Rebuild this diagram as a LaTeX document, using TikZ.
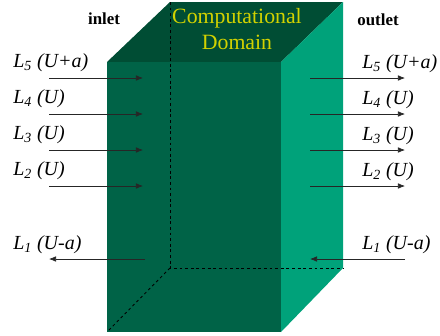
\documentclass[tikz,border=0pt]{standalone}
\usepackage{fontspec}
\setmainfont{Liberation Serif}
\usetikzlibrary{arrows.meta, positioning}
\definecolor{topgreen}{RGB}{0,77,52}
\definecolor{frontgreen}{RGB}{0,99,71}
\definecolor{sidegreen}{RGB}{0,162,122}
\definecolor{domainyellow}{RGB}{210,210,0}

\tikzset{
  wave/.style={draw=black!85, line width=0.5pt, -{Latex[length=5pt, width=4pt]}},
  wavelabel/.style={anchor=west, inner sep=0pt, font=\fontsize{14.2}{17}\selectfont\itshape},
  sidelabel/.style={inner sep=0pt, font=\fontsize{12}{14}\selectfont\bfseries},
  hidden/.style={line width=0.6pt, dash pattern=on 2pt off 2pt},
}

\begin{document}
\begin{tikzpicture}[x=0.025cm, y=-0.025cm]
        \useasboundingbox (0,0) rectangle (440,335);

        % Box corners
        \coordinate (ftl) at (107,62);
        \coordinate (ftr) at (281,62);
        \coordinate (fbl) at (107,332);
        \coordinate (fbr) at (281,332);
        \coordinate (btl) at (170,2);
        \coordinate (btr) at (343,2);
        \coordinate (bbl) at (170,268);
        \coordinate (bbr) at (343,268);

        % Faces
        \fill[topgreen] (ftl) -- (btl) -- (btr) -- (ftr) -- cycle;
        \fill[frontgreen] (ftl) -- (ftr) -- (fbr) -- (fbl) -- cycle;
        \fill[sidegreen] (ftr) -- (btr) -- (bbr) -- (fbr) -- cycle;

        % Hidden edges
        \draw[hidden] (btl) -- (bbl) -- (bbr);
        \draw[hidden] (bbl) -- (fbl);

        % Incoming / outgoing waves
        \foreach \i/\spd/\y in {5/U+a/78, 4/U/114, 3/U/150, 2/U/186} {
          \coordinate (ina\i) at (49,\y);
          \coordinate (inb\i) at (143,\y);
          \coordinate (outa\i) at (310,\y);
          \coordinate (outb\i) at (405,\y);
          \draw[wave] (ina\i) -- (inb\i);
          \draw[wave] (outa\i) -- (outb\i);
          \node[wavelabel] (inlab\i) at (13,\y-15) {L\textsubscript{\i} (\spd)};
          \node[wavelabel] (outlab\i) at (362,\y-14) {L\textsubscript{\i} (\spd)};
        }
        \coordinate (ina1) at (49,259);
        \coordinate (inb1) at (145,259);
        \coordinate (outa1) at (310,259);
        \coordinate (outb1) at (405,259);
        \draw[wave] (inb1) -- (ina1);
        \draw[wave] (outb1) -- (outa1);
        \node[wavelabel] (inlab1) at (13,245) {L\textsubscript{1} (U-a)};
        \node[wavelabel] (outlab1) at (362,245) {L\textsubscript{1} (U-a)};

        % Titles
        \node[sidelabel] (inlet) at (104,19) {inlet};
        \node[sidelabel] (outlet) at (378,20) {outlet};
        \node[align=center, text=domainyellow, inner sep=0pt,
              font=\fontsize{15.5}{18}\selectfont] (domain) at (237,29) {Computational\\Domain};
    \end{tikzpicture}
\end{document}
